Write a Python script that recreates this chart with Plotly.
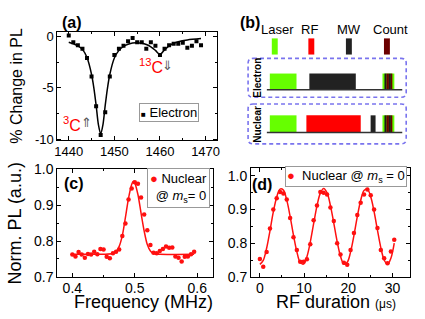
import plotly.graph_objects as go

W, H = 425, 319
FONT = "Liberation Sans, Arial, sans-serif"

# ---------------- Panel (a): electron ODMR ----------------
a_freq = [1440, 1441, 1442, 1443, 1444, 1445, 1446, 1447, 1448, 1449,
          1450, 1451, 1452, 1453, 1454, 1455, 1456, 1457, 1458, 1459,
          1460, 1461, 1462, 1463, 1464, 1465, 1466, 1467, 1468, 1469]
a_change = [0.1, -0.55, -0.85, -1.2, -2.1, -3.9, -6.8, -9.6, -7.4, -3.9,
            -1.8, -1.2, -0.9, -0.45, -0.15, -0.55, -0.55, -1.2, -0.55, -0.9,
            -1.8, -1.2, -0.85, -0.7, -0.7, -0.6, -1.1, -0.9, -0.45, -0.85]
a_fit_freq = [1440, 1441, 1442, 1443, 1444, 1445, 1445.5, 1446, 1446.5, 1447,
              1447.5, 1448, 1448.5, 1449, 1450, 1451, 1452, 1453, 1454, 1455,
              1456, 1457, 1458, 1459, 1460, 1461, 1462, 1463, 1464, 1466, 1469]
a_fit_change = [-0.55, -0.7, -0.9, -1.25, -2.05, -3.7, -5.0, -6.7, -8.6, -9.5,
                -8.6, -6.7, -5.0, -3.7, -2.1, -1.35, -0.95, -0.75, -0.62, -0.6,
                -0.65, -0.78, -1.0, -1.35, -1.75, -1.3, -0.9, -0.65, -0.5, -0.33, -0.2]
a_xtickvals = [1440, 1450, 1460, 1470]
a_xticktext = ["1440", "1450", "1460", "1470"]
a_ytickvals = [-10, -5, 0]
a_yticktext = ["-10", "-5", "0"]

# ---------------- Panel (c): nuclear ODMR ----------------
c_freq = [0.400, 0.405, 0.410, 0.415, 0.420, 0.425, 0.430, 0.435, 0.440, 0.445,
          0.450, 0.455, 0.460, 0.465, 0.470, 0.475, 0.480, 0.485, 0.490, 0.495,
          0.500, 0.505, 0.510, 0.515, 0.520, 0.525, 0.530, 0.535, 0.540, 0.545,
          0.550, 0.555, 0.560, 0.565, 0.570, 0.575, 0.580, 0.585, 0.590, 0.595]
c_pl = [0.762, 0.757, 0.769, 0.762, 0.753, 0.764, 0.762, 0.770, 0.763, 0.778,
        0.776, 0.756, 0.752, 0.766, 0.770, 0.776, 0.814, 0.849, 0.916, 0.947,
        0.964, 0.960, 0.922, 0.874, 0.830, 0.789, 0.767, 0.766, 0.772, 0.778,
        0.785, 0.781, 0.782, 0.757, 0.753, 0.743, 0.756, 0.757, 0.763, 0.770]
c_fit_freq = [0.400, 0.450, 0.465, 0.470, 0.475, 0.480, 0.485, 0.490, 0.495, 0.4975,
              0.500, 0.505, 0.510, 0.515, 0.520, 0.525, 0.530, 0.540, 0.595]
c_fit_pl = [0.763, 0.763, 0.765, 0.770, 0.785, 0.815, 0.866, 0.920, 0.958, 0.967,
            0.962, 0.930, 0.878, 0.828, 0.790, 0.772, 0.765, 0.763, 0.763]
c_xtickvals = [0.4, 0.5, 0.6]
c_xticktext = ["0.4", "0.5", "0.6"]
c_ytickvals = [0.7, 0.8, 0.9, 1.0]
c_yticktext = ["0.7", "0.8", "0.9", "1.0"]

# ---------------- Panel (d): nuclear Rabi ----------------
d_time = [0.00, 0.76, 1.52, 2.28, 3.04, 3.80, 4.56, 5.32, 6.08, 6.84,
          7.60, 8.36, 9.12, 9.88, 10.64, 11.40, 12.16, 12.92, 13.68, 14.44,
          15.20, 15.96, 16.72, 17.48, 18.24, 19.00, 19.76, 20.52, 21.28, 22.04,
          22.80, 23.56, 24.32, 25.08, 25.84, 26.60, 27.36, 28.12, 28.88, 29.64, 30.40]
d_pl = [0.753, 0.730, 0.774, 0.844, 0.900, 0.934, 0.952, 0.948, 0.930, 0.875,
        0.818, 0.780, 0.745, 0.745, 0.752, 0.797, 0.868, 0.912, 0.952, 0.950,
        0.945, 0.906, 0.866, 0.800, 0.766, 0.742, 0.736, 0.780, 0.830, 0.884,
        0.920, 0.945, 0.960, 0.943, 0.900, 0.845, 0.780, 0.755, 0.740, 0.775, 0.810]
d_fit_time = d_time
d_fit_pl = [0.737, 0.749, 0.785, 0.837, 0.893, 0.937, 0.961, 0.958, 0.928, 0.880,
            0.824, 0.775, 0.743, 0.738, 0.760, 0.803, 0.858, 0.911, 0.949, 0.963,
            0.950, 0.912, 0.860, 0.805, 0.761, 0.738, 0.743, 0.774, 0.823, 0.879,
            0.927, 0.957, 0.961, 0.938, 0.894, 0.839, 0.787, 0.750, 0.737, 0.755, 0.800]
d_xtickvals = [0, 10, 20, 30]
d_xticktext = ["0", "10", "20", "30"]
d_ytickvals = [0.7, 0.8, 0.9, 1.0]
d_yticktext = ["0.7", "0.8", "0.9", "1.0"]

# ---------------- Panel (b): pulse sequences (time units) ----------------
b_channels = ["Laser", "RF", "MW", "Count"]
b_rows = ["Electron", "Nuclear"]
b_electron_seq = [("Laser", 0, 27), ("MW", 40, 87), ("Count", 114, 126)]
b_nuclear_seq = [("Laser", 0, 27), ("RF", 37, 92), ("MW", 102, 107), ("Count", 114, 126)]

COL = {"Laser": "#66ff00", "RF": "#ff0000", "MW": "#222222", "Count": "#6b0000"}

fig = go.Figure()

def px_x(p):
    return p / W

def px_y(p):
    return 1 - p / H

# traces
fig.add_trace(go.Scatter(x=a_freq, y=a_change, mode="markers",
                         marker=dict(symbol="square", size=4, color="black"),
                         xaxis="x", yaxis="y", showlegend=False))
fig.add_trace(go.Scatter(x=a_fit_freq, y=a_fit_change, mode="lines",
                         line=dict(color="black", width=1.5, shape="spline", smoothing=0.8),
                         xaxis="x", yaxis="y", showlegend=False))
fig.add_trace(go.Scatter(x=c_freq, y=c_pl, mode="markers",
                         marker=dict(symbol="circle", size=4.5, color="#ff1010"),
                         xaxis="x2", yaxis="y2", showlegend=False))
fig.add_trace(go.Scatter(x=c_fit_freq, y=c_fit_pl, mode="lines",
                         line=dict(color="#ff1010", width=1.5, shape="spline", smoothing=0.8),
                         xaxis="x2", yaxis="y2", showlegend=False))
fig.add_trace(go.Scatter(x=d_time, y=d_pl, mode="markers",
                         marker=dict(symbol="circle", size=4.5, color="#ff1010"),
                         xaxis="x3", yaxis="y3", showlegend=False))
fig.add_trace(go.Scatter(x=d_fit_time, y=d_fit_pl, mode="lines",
                         line=dict(color="#ff1010", width=1.5, shape="spline", smoothing=1.0),
                         xaxis="x3", yaxis="y3", showlegend=False))

def axis(domain, rng, tv, tt, minor_vals, fsize, anchor, standoff=0):
    return dict(domain=domain, range=rng, tickmode="array", tickvals=tv, ticktext=tt,
                ticks="inside", ticklen=4, tickwidth=1, tickcolor="black",
                mirror="allticks", showline=True, linecolor="black", linewidth=1,
                showgrid=False, zeroline=False, anchor=anchor, ticklabelstandoff=standoff,
                tickfont=dict(family=FONT, size=fsize, color="black"),
                minor=dict(ticks="inside", ticklen=2, tickcolor="black",
                           tickmode="array", tickvals=minor_vals, showgrid=False))

layout = dict(
    width=W, height=H, margin=dict(l=0, r=0, t=0, b=0),
    paper_bgcolor="white", plot_bgcolor="rgba(0,0,0,0)",
    font=dict(family=FONT, color="black"),
    xaxis=axis([px_x(55), px_x(217)], [1437.5, 1472.6], a_xtickvals, a_xticktext,
               [1445, 1455, 1465], 13, "y", -1),
    yaxis=axis([px_y(139), px_y(25)], [-10.1, 0.47], a_ytickvals, a_yticktext,
               [-7.5, -2.5], 13, "x"),
    xaxis2=axis([px_x(55), px_x(213)], [0.376, 0.626], c_xtickvals, c_xticktext,
                [0.45, 0.55], 14, "y2", -2),
    yaxis2=axis([px_y(283), px_y(170)], [0.7, 1.0], c_ytickvals, c_yticktext,
                [0.75, 0.85, 0.95], 14, "x2"),
    xaxis3=axis([px_x(251), px_x(412)], [-2, 34], d_xtickvals, d_xticktext,
                [5, 15, 25], 14, "y3", -2),
    yaxis3=axis([px_y(283), px_y(168)], [0.7, 1.025], d_ytickvals, d_yticktext,
                [0.75, 0.85, 0.95], 14, "x3"),
    # schematic axes: x in time units (t=0 at laser start), y in row units
    xaxis4=dict(domain=[0, 1], range=[-270, 155], visible=False, anchor="y4", fixedrange=True),
    yaxis4=dict(domain=[0, 1], range=[319, 0], visible=False, anchor="x4", fixedrange=True),
)
fig.update_layout(**layout)

shapes = []
annotations = []

def ann(**kw):
    d = dict(showarrow=False, xanchor="center", yanchor="middle")
    d.update(kw)
    annotations.append(d)

# ---- schematic (b) ----
leg_bar_center = {"Laser": 5, "RF": 42, "MW": 80, "Count": 118.5}
leg_text_center = {"Laser": 7.5, "RF": 40, "MW": 80, "Count": 122}
for ch in b_channels:
    c = leg_bar_center[ch]
    shapes.append(dict(type="rect", xref="x4", yref="y4", x0=c - 3, x1=c + 3, y0=32, y1=49,
                       fillcolor=COL[ch], line=dict(width=0), layer="above"))
    ann(xref="x4", yref="y4", x=leg_text_center[ch], y=23, text=ch,
        font=dict(family=FONT, size=13, color="black"))

row_geom = {"Electron": (69, 86, 53, 94), "Nuclear": (113, 131, 101, 143)}
row_seq = {"Electron": b_electron_seq, "Nuclear": b_nuclear_seq}
box_color = "#7a74ee"
for row in b_rows:
    top, base, by0, by1 = row_geom[row]
    x0, x1, r = -22, 138, 5
    path = (f"M {x0 + r},{by0} L {x1 - r},{by0} Q {x1},{by0} {x1},{by0 + r} "
            f"L {x1},{by1 - r} Q {x1},{by1} {x1 - r},{by1} L {x0 + r},{by1} "
            f"Q {x0},{by1} {x0},{by1 - r} L {x0},{by0 + r} Q {x0},{by0} {x0 + r},{by0} Z")
    shapes.append(dict(type="path", xref="x4", yref="y4", path=path,
                       line=dict(color=box_color, width=1.6, dash="4px,3px")))
    for ch, t0, t1 in row_seq[row]:
        if ch == "Count":
            shapes.append(dict(type="rect", xref="x4", yref="y4", x0=t0, x1=t1, y0=top, y1=base,
                               fillcolor=COL["Laser"], line=dict(width=0)))
            stripes = [(t0 + 2, t0 + 4, "#1a1a1a"), (t0 + 4, t0 + 6.5, COL["Count"]),
                       (t0 + 6.5, t0 + 8.5, "#1a1a1a"), (t0 + 8.5, t0 + 10, COL["Count"])]
            for s0, s1, sc in stripes:
                shapes.append(dict(type="rect", xref="x4", yref="y4", x0=s0, x1=s1, y0=top, y1=base,
                                   fillcolor=sc, line=dict(width=0)))
        else:
            shapes.append(dict(type="rect", xref="x4", yref="y4", x0=t0, x1=t1, y0=top, y1=base,
                               fillcolor=COL[ch], line=dict(width=0)))
    shapes.append(dict(type="line", xref="x4", yref="y4", x0=-3, x1=134, y0=base, y1=base,
                       line=dict(color="#333333", width=1.5)))
    ann(xref="x4", yref="y4", x=-12, y=(by0 + by1) / 2, text=f"<b>{row}</b>", textangle=-90,
        font=dict(family=FONT, size=10, color="black"))

# ---- panel labels ----
for lab, x, y in [("(a)", 70, 15), ("(b)", 250, 15), ("(c)", 72, 185), ("(d)", 262, 186)]:
    ann(xref="paper", yref="paper", x=px_x(x), y=px_y(y), text=f"<b>{lab}</b>",
        font=dict(family=FONT, size=16, color="black"))

# ---- axis titles ----
ann(xref="paper", yref="paper", x=px_x(14), y=px_y(82), text="% Change in PL", textangle=-90,
    font=dict(family=FONT, size=16, color="black"))
ann(xref="paper", yref="paper", x=px_x(12), y=px_y(227), text="Norm. PL (a.u.)", textangle=-90,
    font=dict(family=FONT, size=18, color="black"))
ann(xref="paper", yref="paper", x=px_x(142), y=px_y(309), text="Frequency (MHz)",
    font=dict(family=FONT, size=18, color="black"))
ann(xref="paper", yref="paper", x=px_x(337), y=px_y(309),
    text="RF duration <span style='font-size:12px'>(μs)</span>",
    font=dict(family=FONT, size=18, color="black"))

# ---- panel (a) annotations ----
ann(xref="x", yref="y", x=1458.1, y=-2.9, text="<sup>13</sup>C",
    font=dict(family=FONT, size=16, color="#ff0000"))
ann(xref="x", yref="y", x=1461.7, y=-2.8, text="⇓",
    font=dict(family="DejaVu Sans", size=13, color="#555555"))
ann(xref="x", yref="y", x=1440.7, y=-8.5, text="<sup>3</sup>C",
    font=dict(family=FONT, size=16, color="#ff0000"))
ann(xref="x", yref="y", x=1443.9, y=-8.4, text="⇑",
    font=dict(family="DejaVu Sans", size=13, color="#555555"))

# ---- legend boxes ----
ann(xref="paper", yref="paper", x=px_x(167.5), y=px_y(109.5),
    text="<span style='font-size:8px'>■</span> Electron",
    font=dict(family=FONT, size=13, color="black"), bgcolor="white",
    bordercolor="#999999", borderwidth=1, borderpad=1)
ann(xref="paper", yref="paper", x=px_x(178), y=px_y(189),
    text="<span style='color:#ff1010'>●</span> Nuclear<br>@ <i>m</i><sub>s</sub>= 0",
    align="right", font=dict(family=FONT, size=13, color="black"), bgcolor="white",
    bordercolor="#999999", borderwidth=1, borderpad=2)
ann(xref="paper", yref="paper", x=px_x(347.5), y=px_y(177.5),
    text="<span style='color:#ff1010'>●</span>  Nuclear @ <i>m</i><sub>s</sub> = 0",
    font=dict(family=FONT, size=13, color="black"), bgcolor="white",
    bordercolor="#999999", borderwidth=1, borderpad=1)

fig.update_layout(shapes=shapes, annotations=annotations)
fig.write_html("out.html", config={"displayModeBar": False},
               post_script="document.body.style.margin='0';document.body.style.overflow='hidden';")
